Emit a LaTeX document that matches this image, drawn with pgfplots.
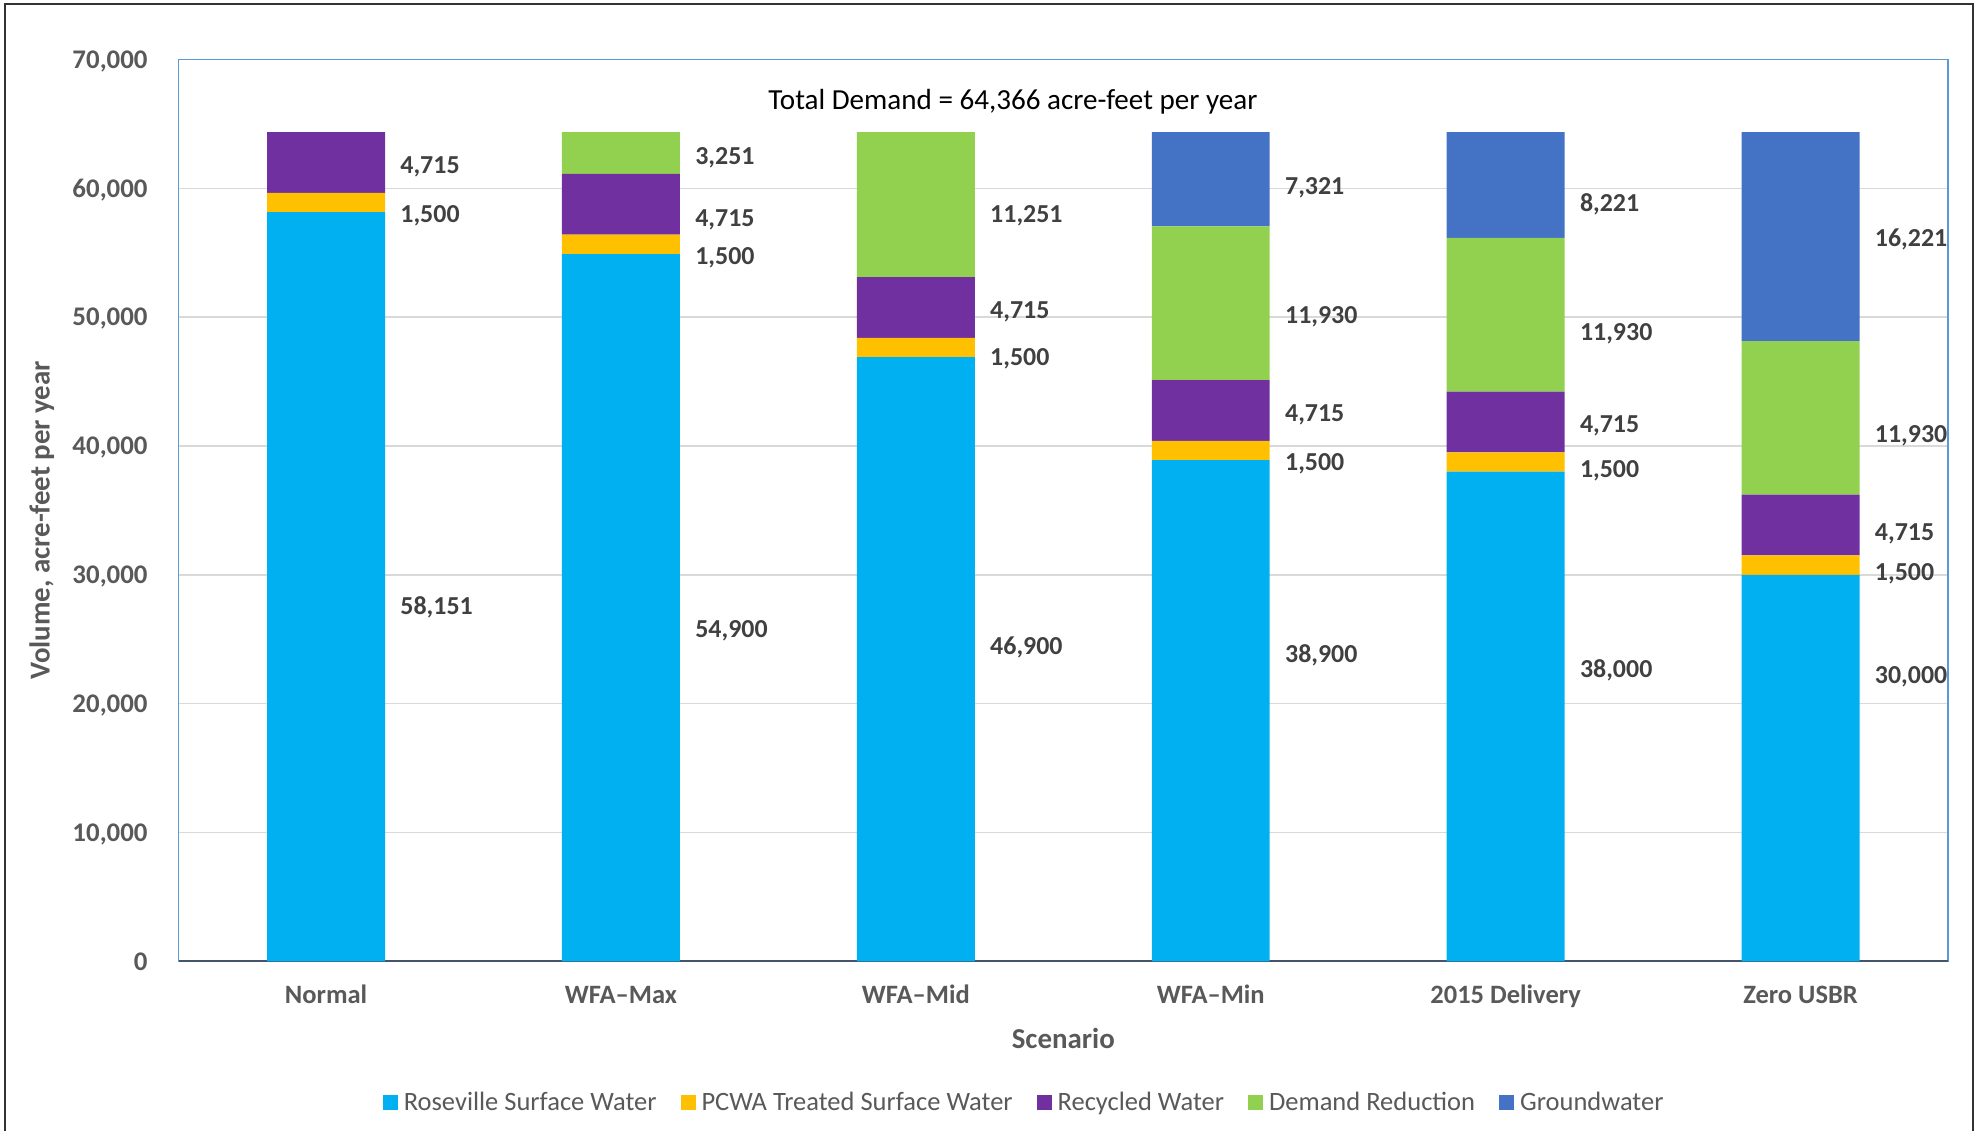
\documentclass[border=0pt]{standalone}
\usepackage{fontspec}
\setmainfont{Carlito}
\usepackage{pgfplots}
\pgfplotsset{compat=1.18}

\definecolor{rsw}{HTML}{00B0F0}
\definecolor{pcwa}{HTML}{FFC000}
\definecolor{recy}{HTML}{7030A0}
\definecolor{dred}{HTML}{92D050}
\definecolor{gw}{HTML}{4472C4}
\definecolor{tickgray}{HTML}{595959}
\definecolor{lblgray}{HTML}{404040}
\definecolor{gridgray}{HTML}{D9D9D9}
\definecolor{borderblue}{HTML}{5B9BD5}
\definecolor{xaxisc}{HTML}{44546A}

\pgfplotsset{
  sq legend/.style={legend image code/.code={\fill[##1] (0bp,-3.75bp) rectangle (7.5bp,3.75bp);}},
}
\tikzset{
  lbl/.style={anchor=west, inner sep=0pt, xshift=7.5bp, text depth=0pt,
    font=\fontsize{13}{15}\selectfont\bfseries, text=lblgray},
}

\begin{document}
\begin{tikzpicture}
\begin{axis}[
    scale only axis, width=884.7bp, height=450.9bp,
    ybar stacked, bar width=0.4,
    xmin=-0.5, xmax=5.5, ymin=0, ymax=70000,
    xtick={0,1,2,3,4,5},
    xticklabels={Normal, WFA--Max, WFA--Mid, WFA--Min, 2015 Delivery, Zero USBR},
    ytick={0,10000,...,70000},
    scaled y ticks=false,
    /pgf/number format/1000 sep={,},
    /pgf/number format/assume math mode=true,
    major tick length=0pt,
    ymajorgrids, grid style={draw=gridgray, line width=0.75bp},
    axis line style={draw=borderblue, line width=0.75bp},
    clip=false,
    y tick label style={anchor=east, inner sep=0pt, xshift=-15.3bp, text depth=0pt,
      font=\fontsize{13.5}{16}\selectfont\bfseries, text=tickgray},
    x tick label style={anchor=base, inner sep=0pt, yshift=-21.1bp,
      font=\fontsize{13.3}{16}\selectfont\bfseries, text=tickgray},
    xlabel={Scenario},
    ylabel={Volume, acre-feet per year},
    label style={font=\fontsize{14.5}{17}\selectfont\bfseries, text=tickgray},
    xlabel style={at={(axis description cs:0.5,0)}, anchor=center, yshift=-38.6bp},
    ylabel style={at={(axis description cs:0,0.489)}, anchor=center, yshift=68.4bp},
    legend style={at={(axis description cs:0.479,-0.157)}, anchor=center, draw=none,
      font=\fontsize{13.3}{16}\selectfont, text=tickgray, nodes={inner xsep=3bp},
      /tikz/every even column/.append style={column sep=9bp}},
    legend columns=-1,
  ]
\addplot[fill=rsw, draw=none, sq legend] coordinates {(0,58151) (1,54900) (2,46900) (3,38900) (4,38000) (5,30000)};
\addplot[fill=pcwa, draw=none, sq legend] coordinates {(0,1500) (1,1500) (2,1500) (3,1500) (4,1500) (5,1500)};
\addplot[fill=recy, draw=none, sq legend] coordinates {(0,4715) (1,4715) (2,4715) (3,4715) (4,4715) (5,4715)};
\addplot[fill=dred, draw=none, sq legend] coordinates {(0,0) (1,3251) (2,11251) (3,11930) (4,11930) (5,11930)};
\addplot[fill=gw, draw=none, sq legend] coordinates {(0,0) (1,0) (2,0) (3,7321) (4,8221) (5,16221)};
\legend{Roseville Surface Water, PCWA Treated Surface Water, Recycled Water, Demand Reduction, Groundwater}

\draw[xaxisc, line width=1bp] (axis cs:-0.5,0) -- (axis cs:5.5,0);

\node[font=\fontsize{14.6}{17}\selectfont, text=black] at (axis cs:2.329,66757) {Total Demand = 64,366 acre-feet per year};

% Normal
\node[lbl] at (axis cs:0.2,61838) {4,715};
\node[lbl] at (axis cs:0.2,58003) {1,500};
\node[lbl] at (axis cs:0.2,27626) {58,151};
% WFA-Max
\node[lbl] at (axis cs:1.2,62526) {3,251};
\node[lbl] at (axis cs:1.2,57710) {4,715};
\node[lbl] at (axis cs:1.2,54760) {1,500};
\node[lbl] at (axis cs:1.2,25758) {54,900};
% WFA-Mid
\node[lbl] at (axis cs:2.2,58003) {11,251};
\node[lbl] at (axis cs:2.2,50533) {4,715};
\node[lbl] at (axis cs:2.2,46895) {1,500};
\node[lbl] at (axis cs:2.2,24480) {46,900};
% WFA-Min
\node[lbl] at (axis cs:3.2,60166) {7,321};
\node[lbl] at (axis cs:3.2,50139) {11,930};
\node[lbl] at (axis cs:3.2,42569) {4,715};
\node[lbl] at (axis cs:3.2,38735) {1,500};
\node[lbl] at (axis cs:3.2,23890) {38,900};
% 2015 Delivery
\node[lbl] at (axis cs:4.2,58888) {8,221};
\node[lbl] at (axis cs:4.2,48860) {11,930};
\node[lbl] at (axis cs:4.2,41684) {4,715};
\node[lbl] at (axis cs:4.2,38243) {1,500};
\node[lbl] at (axis cs:4.2,22710) {38,000};
% Zero USBR
\node[lbl] at (axis cs:5.2,56136) {16,221};
\node[lbl] at (axis cs:5.2,40897) {11,930};
\node[lbl] at (axis cs:5.2,33327) {4,715};
\node[lbl] at (axis cs:5.2,30181) {1,500};
\node[lbl] at (axis cs:5.2,22218) {30,000};

% frame and page corners, relative to the plot box
\coordinate (fbl) at ([xshift=-86.8bp,yshift=-95bp]rel axis cs:0,0);
\coordinate (ftl) at ([xshift=-86.8bp,yshift=27.75bp]rel axis cs:0,1);
\coordinate (ftr) at ([xshift=12.5bp,yshift=27.75bp]rel axis cs:1,1);
\coordinate (fbr) at ([xshift=12.5bp,yshift=-95bp]rel axis cs:1,0);
\coordinate (pbl) at ([xshift=-89.3bp,yshift=-84.85bp]rel axis cs:0,0);
\coordinate (ptr) at ([xshift=17bp,yshift=29.75bp]rel axis cs:1,1);
\end{axis}
\draw[black!80, line width=1bp] (fbl) -- (ftl) -- (ftr) -- (fbr);
\pgfresetboundingbox
\path[use as bounding box] (pbl) rectangle (ptr);
\end{tikzpicture}
\end{document}
